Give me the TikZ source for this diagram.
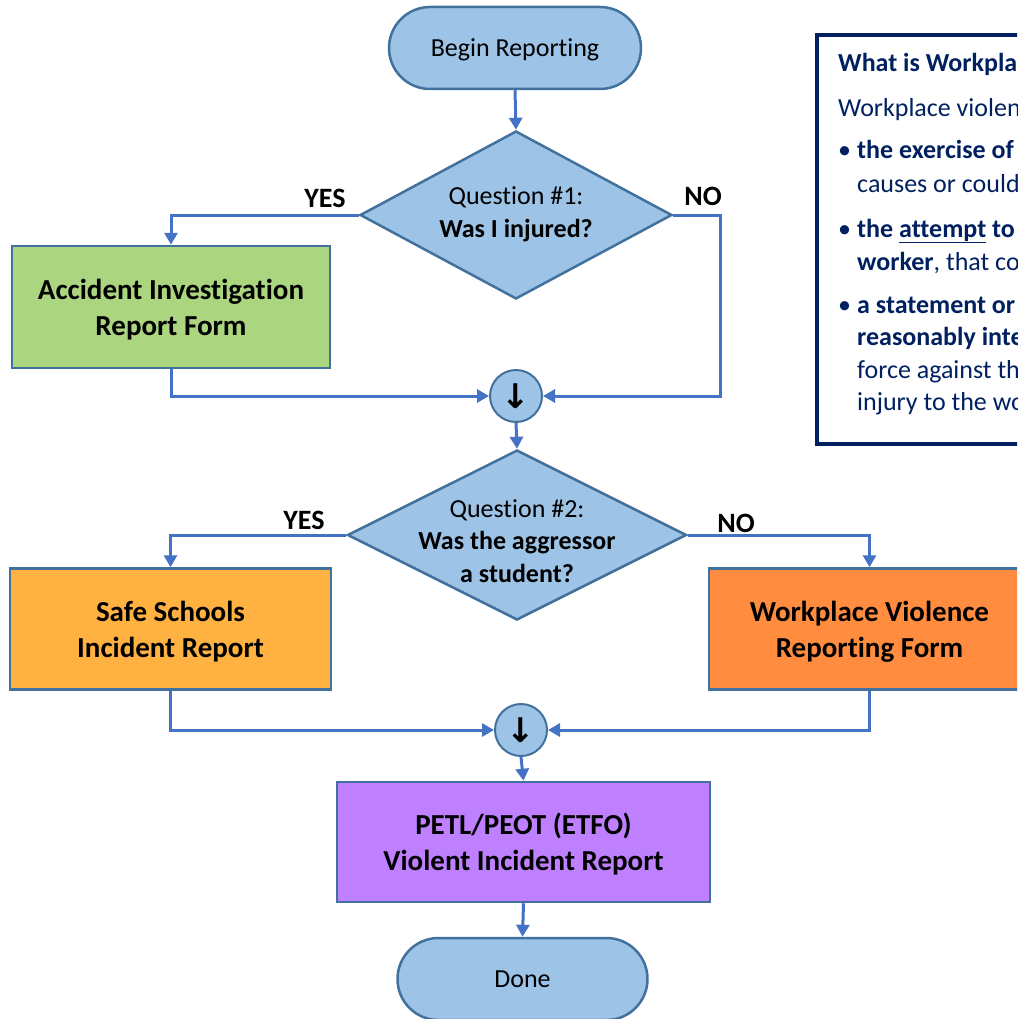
\documentclass[tikz,border=0pt]{standalone}
\usepackage{fontspec}
\setmainfont{Carlito}[Ligatures=NoCommon]
\newfontfamily\symfont{DejaVu Sans}
\usetikzlibrary{shapes.geometric,arrows.meta}
\definecolor{lblue}{HTML}{9DC3E6}
\definecolor{edge}{HTML}{41719C}
\definecolor{conn}{HTML}{4472C4}
\definecolor{accgreen}{HTML}{ABD57E}
\definecolor{safeorange}{HTML}{FFB142}
\definecolor{wvorange}{HTML}{FF8C3F}
\definecolor{petlpurple}{HTML}{BF80FF}
\definecolor{navy}{HTML}{002060}
\begin{document}
\begin{tikzpicture}[x=1pt,y=-1pt,
  term/.style={draw=edge, fill=lblue, line width=2.5pt, rounded corners=41pt,
    minimum width=252pt, minimum height=82pt, inner sep=0pt, text depth=0pt,
    font=\fontsize{26}{32}\selectfont},
  formbox/.style={draw=edge, line width=2.5pt, align=center, inner sep=0pt, text depth=0pt,
    font=\bfseries\fontsize{29}{36}\selectfont},
  dia/.style={diamond, draw=edge, fill=lblue, line width=2.5pt, inner sep=0pt},
  qtext/.style={align=center, inner sep=0pt, text depth=0pt, font=\fontsize{26}{32.5}\selectfont},
  yn/.style={inner sep=0pt, font=\bfseries\fontsize{28}{32}\selectfont},
  circ/.style={circle, draw=edge, fill=lblue, line width=2pt, minimum size=52pt,
    inner sep=0pt, font=\symfont\bfseries\fontsize{34}{36}\selectfont},
  conn/.style={draw=conn, line width=3pt, -{Triangle[length=12pt,width=13pt]}},
  infoline/.style={anchor=base west, inner sep=0pt, text=navy,
    font=\fontsize{26}{32}\selectfont}
]
\path[use as bounding box] (0,0) rectangle (1017,1019);
\clip (0,0) rectangle (1017,1019);

% nodes
\node[term] (begin) at (515,48) {Begin Reporting};
\node[dia, minimum width=312pt, minimum height=168pt] (q1) at (516,215) {};
\node[qtext] (q1t) at (516,212) {Question \#1:\\ \textbf{Was I injured?}};
\node[formbox, fill=accgreen, minimum width=318pt, minimum height=122pt] (acc) at (171,307) {Accident Investigation\\Report Form};
\node[circ] (c1) at (516,396) {↓};
\node[dia, minimum width=339pt, minimum height=170pt] (q2) at (517,535) {};
\node[qtext] (q2t) at (517,541) {Question \#2:\\ \textbf{Was the aggressor}\\ \textbf{a student?}};
\node[formbox, fill=safeorange, minimum width=321pt, minimum height=121pt] (safe) at (170.5,629) {Safe Schools\\Incident Report};
\node[formbox, fill=wvorange, minimum width=321pt, minimum height=121pt] (wv) at (869.5,629) {Workplace Violence\\Reporting Form};
\node[circ] (c2) at (521,730) {↓};
\node[formbox, fill=petlpurple, minimum width=373pt, minimum height=120pt] (petl) at (523.5,842) {PETL/PEOT (ETFO)\\Violent Incident Report};
\node[term, minimum width=250pt] (done) at (522.5,979) {Done};

% labels
\node[yn] (yes1) at (325,198) {YES};
\node[yn] (no1) at (703,196) {NO};
\node[yn] (yes2) at (304,520) {YES};
\node[yn] (no2) at (736,523) {NO};

% connectors
\coordinate (k1) at (720,396);
\draw[conn] (begin.south) -- (q1.north);
\draw[conn] (q1.west) -| (acc.north);
\draw[conn] (acc.south) |- (c1.west);
\draw[conn] (q1.east) -| (k1) -- (c1.east);
\draw[conn] (c1.south) -- (q2.north);
\draw[conn] (q2.west) -| (safe.north);
\draw[conn] (q2.east) -| (wv.north);
\draw[conn] (safe.south) |- (c2.west);
\draw[conn] (wv.south) |- (c2.east);
\draw[conn] (c2.south) -- (petl.north);
\draw[conn] (petl.south) -- (done.north);

% info box
\node[draw=navy, line width=4pt, anchor=north west, minimum width=420pt, minimum height=409pt, inner sep=0pt] (info) at (815,33) {};
\node[infoline] (i1) at (838,72) {\textbf{What is Workplace Violence?}};
\node[infoline] (i2) at (838,117) {Workplace violence is:};
\node[infoline] (b1) at (838,159) {•};
\node[infoline] (i3) at (857,159) {\textbf{the exercise of physical force} by a person against a worker, that};
\node[infoline] (i4) at (857,193) {causes or could cause physical injury to the worker;};
\node[infoline] (b2) at (838,237) {•};
\node[infoline] (i5) at (857,237) {\textbf{the \underline{attempt} to exercise physical force against a}};
\node[infoline] (i6) at (857,270) {\textbf{worker}, that could cause physical injury to the worker;};
\node[infoline] (b3) at (838,313) {•};
\node[infoline] (i7) at (857,313) {\textbf{a statement or behaviour that a worker could}};
\node[infoline] (i8) at (857,345) {\textbf{reasonably interpret as a threat} to exercise physical};
\node[infoline] (i9) at (857,378) {force against the worker, that could cause physical};
\node[infoline] (i10) at (857,410) {injury to the worker.};
\end{tikzpicture}
\end{document}
